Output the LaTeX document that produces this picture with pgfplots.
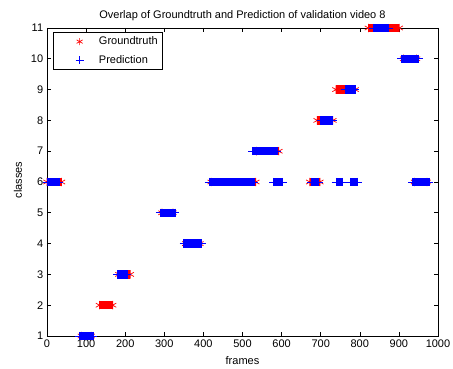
\documentclass[border=0pt]{standalone}
\usepackage{fontspec}
\setmainfont{Liberation Sans}
\usepackage{pgfplots}
\pgfplotsset{compat=1.18}
\begin{document}
\fontsize{11}{13}\selectfont
\begin{tikzpicture}
\begin{axis}[
  scale only axis, width=391pt, height=308pt,
  xmin=0, xmax=1000, ymin=1, ymax=11,
  xtick={0,100,...,1000}, ytick={1,2,...,11},
  clip=false, clip marker paths=true,
  tick align=inside, major tick length=4pt,
  axis line style={black, line width=0.6pt},
  every tick/.style={black, line width=0.6pt},
  /pgf/number format/assume math mode=true,
  /pgf/number format/1000 sep={},
  tick label style={font=\fontsize{11}{13}\selectfont},
  label style={font=\fontsize{11}{13}\selectfont},
  title style={font=\fontsize{11}{13}\selectfont, at={(0.5,1)}, anchor=center, yshift=6pt},
  title={Overlap of Groundtruth and Prediction of validation video 8},
  xlabel={frames}, ylabel={classes},
  xlabel style={at={(axis description cs:0.5,0)}, anchor=center, yshift=-25pt},
  ylabel style={at={(axis description cs:-0.0742,0.506)}, anchor=center},
  unbounded coords=jump,
  legend style={at={(0.0153,0.987)}, anchor=north west, draw=black, line width=0.6pt,
    font=\fontsize{11}{13}\selectfont, inner xsep=3pt, inner ysep=2.5pt, row sep=5pt},
  legend cell align=left,
  legend image code/.code={\path (0pt,0pt) (40pt,0pt); \draw[#1] plot coordinates {(23pt,0pt)};},
]
\addlegendimage{red, only marks, mark=asterisk, mark size=3.5pt, line width=0.7pt, mark options={red}}
\addlegendentry{Groundtruth}
\addlegendimage{blue, only marks, mark=+, mark size=4pt, line width=0.7pt, mark options={blue}}
\addlegendentry{Prediction}

\addplot[red, line width=8.3pt, line cap=butt, mark=asterisk, mark size=4.2pt,
  mark options={line width=0.7pt, solid}, forget plot] coordinates {
(0,6)(37,6)(nan,nan)(88,1)(113,1)(nan,nan)(134,2)(168,2)(nan,nan)(184,3)(213,3)(nan,nan)
(294,5)(322,5)(nan,nan)(355,4)(391,4)(nan,nan)(420,6)(534,6)(nan,nan)(536,7)(593,7)(nan,nan)
(672,6)(698,6)(nan,nan)(691,8)(731,8)(nan,nan)(739,9)(788,9)(nan,nan)(822,11)(901,11)(nan,nan)
(912,10)(945,10)(nan,nan)(940,6)(972,6)
};
\addplot[blue, line width=8.3pt, line cap=butt, mark=+, mark size=4.2pt,
  mark options={line width=0.7pt, solid}, forget plot] coordinates {
(0,6)(31,6)(nan,nan)(83,1)(118,1)(nan,nan)(180,3)(205,3)(nan,nan)(289,5)(327,5)(nan,nan)
(350,4)(396,4)(nan,nan)(414,6)(530,6)(nan,nan)(525,7)(589,7)(nan,nan)(579,6)(602,6)(nan,nan)
(675,6)(694,6)(nan,nan)(700,8)(731,8)(nan,nan)(739,6)(756,6)(nan,nan)(762,9)(788,9)(nan,nan)
(775,6)(795,6)(nan,nan)(834,11)(873,11)(nan,nan)(907,10)(950,10)(nan,nan)(935,6)(977,6)
};
\end{axis}
\pgfresetboundingbox
\path (current axis.south west) ++(-47pt,-33pt) rectangle ++(453pt,369pt);
\end{tikzpicture}
\end{document}
